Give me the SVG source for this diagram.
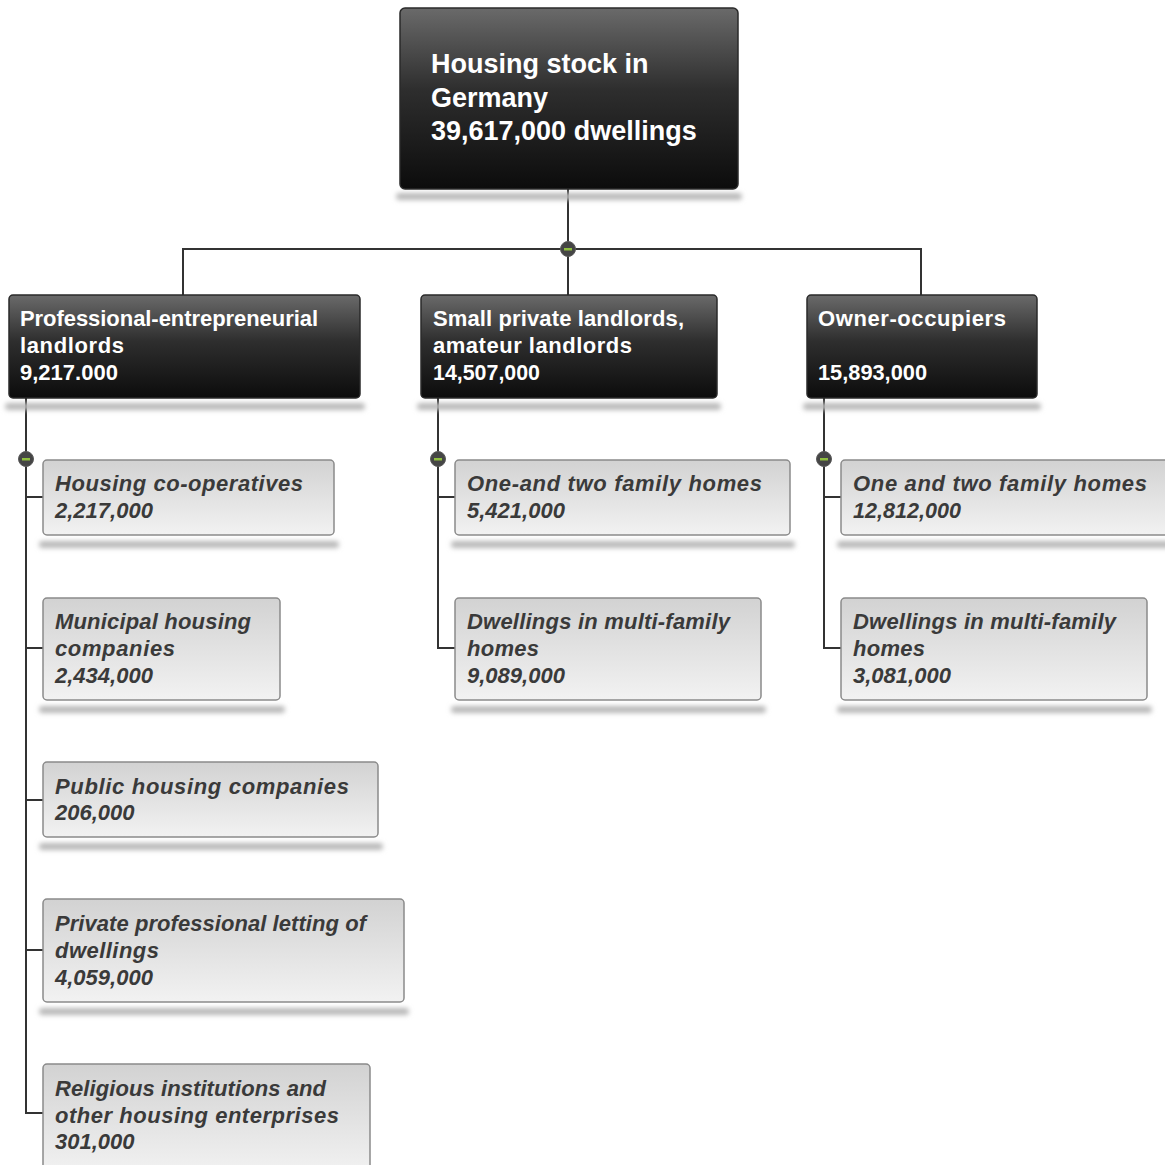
<svg xmlns="http://www.w3.org/2000/svg" width="1165" height="1165" viewBox="0 0 1165 1165">
<defs>
<linearGradient id="gDark" x1="0" y1="0" x2="0" y2="1">
<stop offset="0" stop-color="#6a6a6a"/>
<stop offset="0.45" stop-color="#2e2e2e"/>
<stop offset="1" stop-color="#0c0c0c"/>
</linearGradient>
<linearGradient id="gLight" x1="0" y1="0" x2="0" y2="1">
<stop offset="0" stop-color="#d2d2d2"/>
<stop offset="1" stop-color="#f2f2f2"/>
</linearGradient>
<filter id="blur" x="-10%" y="-100%" width="120%" height="300%">
<feGaussianBlur stdDeviation="2.5"/>
</filter>
</defs>
<style>
.dark{fill:url(#gDark);stroke:#2a2a2a;stroke-width:1.5}
.light{fill:url(#gLight);stroke:#8a8a8a;stroke-width:1.5}
.sh{fill:#b8b8b8;filter:url(#blur)}
.t0{font-family:"Liberation Sans",Arial,sans-serif;font-weight:bold;font-size:27px;fill:#ffffff}
.t1{font-family:"Liberation Sans",Arial,sans-serif;font-weight:bold;font-size:22px;fill:#ffffff}
.t2{font-family:"Liberation Sans",Arial,sans-serif;font-weight:bold;font-style:italic;font-size:22px;fill:#3a3a3a}
.ln{fill:none;stroke:#333333;stroke-width:2}
.knob{fill:#454545;stroke:#5a5a5a;stroke-width:1}
.minus{fill:#8fbf3f}
</style>
<rect width="1165" height="1165" fill="#ffffff"/>

<g id="connectors">
<path class="ln" d="M568 189 V295 M183 295 V249 H921 V295"/>
<path class="ln" d="M26 398 V1113 H43 M26 497 H43 M26 648 H43 M26 800 H43 M26 950 H43"/>
<path class="ln" d="M438 398 V648 H455 M438 497 H455"/>
<path class="ln" d="M824 398 V648 H841 M824 497 H841"/>
<circle class="knob" cx="568" cy="249" r="7.5"/><rect class="minus" x="564" y="248" width="8" height="2.5"/>
<circle class="knob" cx="26" cy="459" r="7.5"/><rect class="minus" x="22" y="458" width="8" height="2.5"/>
<circle class="knob" cx="438" cy="459" r="7.5"/><rect class="minus" x="434" y="458" width="8" height="2.5"/>
<circle class="knob" cx="824" cy="459" r="7.5"/><rect class="minus" x="820" y="458" width="8" height="2.5"/>
</g>

<g id="root">
<rect class="sh" x="396" y="193" width="346" height="7" rx="3.5"/>
<rect class="dark" x="400" y="8" width="338" height="181" rx="5"/>
<text class="t0" x="431" y="73">Housing stock in</text>
<text class="t0" x="431" y="107">Germany</text>
<text class="t0" x="431" y="140">39,617,000 dwellings</text>
</g>

<g id="prof">
<rect class="sh" x="5" y="403" width="360" height="7" rx="3.5"/>
<rect class="dark" x="9" y="295" width="351" height="103" rx="4"/>
<text class="t1" x="20" y="326" textLength="298" lengthAdjust="spacing">Professional-entrepreneurial</text>
<text class="t1" x="20" y="353" textLength="104" lengthAdjust="spacing">landlords</text>
<text class="t1" x="20" y="380">9,217.000</text>
</g>

<g id="small">
<rect class="sh" x="417" y="403" width="304" height="7" rx="3.5"/>
<rect class="dark" x="421" y="295" width="296" height="103" rx="4"/>
<text class="t1" x="433" y="326" textLength="251" lengthAdjust="spacing">Small private landlords,</text>
<text class="t1" x="433" y="353" textLength="199" lengthAdjust="spacing">amateur  landlords</text>
<text class="t1" x="433" y="380" textLength="107" lengthAdjust="spacingAndGlyphs">14,507,000</text>
</g>

<g id="owner">
<rect class="sh" x="803" y="403" width="238" height="7" rx="3.5"/>
<rect class="dark" x="807" y="295" width="230" height="103" rx="4"/>
<text class="t1" x="818" y="326" textLength="188" lengthAdjust="spacing">Owner-occupiers</text>
<text class="t1" x="818" y="380" textLength="109" lengthAdjust="spacingAndGlyphs">15,893,000</text>
</g>

<g id="coop">
<rect class="sh" x="39" y="541" width="300" height="7" rx="3.5"/>
<rect class="light" x="43" y="460" width="291" height="75" rx="4"/>
<text class="t2" x="55" y="491" textLength="248" lengthAdjust="spacing">Housing  co-operatives</text>
<text class="t2" x="55" y="518">2,217,000</text>
</g>

<g id="municipal">
<rect class="sh" x="39" y="706" width="246" height="7" rx="3.5"/>
<rect class="light" x="43" y="598" width="237" height="102" rx="4"/>
<text class="t2" x="55" y="629" textLength="196" lengthAdjust="spacing">Municipal housing</text>
<text class="t2" x="55" y="656" textLength="120" lengthAdjust="spacing">companies</text>
<text class="t2" x="55" y="683">2,434,000</text>
</g>

<g id="public">
<rect class="sh" x="39" y="843" width="344" height="7" rx="3.5"/>
<rect class="light" x="43" y="762" width="335" height="75" rx="4"/>
<text class="t2" x="55" y="794" textLength="294" lengthAdjust="spacing">Public  housing  companies</text>
<text class="t2" x="55" y="820">206,000</text>
</g>

<g id="private">
<rect class="sh" x="39" y="1008" width="370" height="7" rx="3.5"/>
<rect class="light" x="43" y="899" width="361" height="103" rx="4"/>
<text class="t2" x="55" y="931" textLength="311" lengthAdjust="spacing">Private professional letting of</text>
<text class="t2" x="55" y="958" textLength="104" lengthAdjust="spacing">dwellings</text>
<text class="t2" x="55" y="985">4,059,000</text>
</g>

<g id="religious">
<rect class="light" x="43" y="1064" width="327" height="110" rx="4"/>
<text class="t2" x="55" y="1096" textLength="271" lengthAdjust="spacing">Religious institutions and</text>
<text class="t2" x="55" y="1123" textLength="284" lengthAdjust="spacing">other  housing  enterprises</text>
<text class="t2" x="55" y="1149">301,000</text>
</g>

<g id="small-one-two">
<rect class="sh" x="451" y="541" width="344" height="7" rx="3.5"/>
<rect class="light" x="455" y="460" width="335" height="75" rx="4"/>
<text class="t2" x="467" y="491" textLength="295" lengthAdjust="spacing">One-and  two  family  homes</text>
<text class="t2" x="467" y="518">5,421,000</text>
</g>

<g id="small-multi">
<rect class="sh" x="451" y="706" width="315" height="7" rx="3.5"/>
<rect class="light" x="455" y="598" width="306" height="102" rx="4"/>
<text class="t2" x="467" y="629" textLength="263" lengthAdjust="spacing">Dwellings in multi-family</text>
<text class="t2" x="467" y="656" textLength="72" lengthAdjust="spacing">homes</text>
<text class="t2" x="467" y="683">9,089,000</text>
</g>

<g id="owner-one-two">
<rect class="sh" x="837" y="541" width="340" height="7" rx="3.5"/>
<rect class="light" x="841" y="460" width="340" height="75" rx="4"/>
<text class="t2" x="853" y="491" textLength="294" lengthAdjust="spacing">One and two family homes</text>
<text class="t2" x="853" y="518" textLength="108" lengthAdjust="spacingAndGlyphs">12,812,000</text>
</g>

<g id="owner-multi">
<rect class="sh" x="837" y="706" width="315" height="7" rx="3.5"/>
<rect class="light" x="841" y="598" width="306" height="102" rx="4"/>
<text class="t2" x="853" y="629" textLength="263" lengthAdjust="spacing">Dwellings in multi-family</text>
<text class="t2" x="853" y="656" textLength="72" lengthAdjust="spacing">homes</text>
<text class="t2" x="853" y="683">3,081,000</text>
</g>
</svg>
